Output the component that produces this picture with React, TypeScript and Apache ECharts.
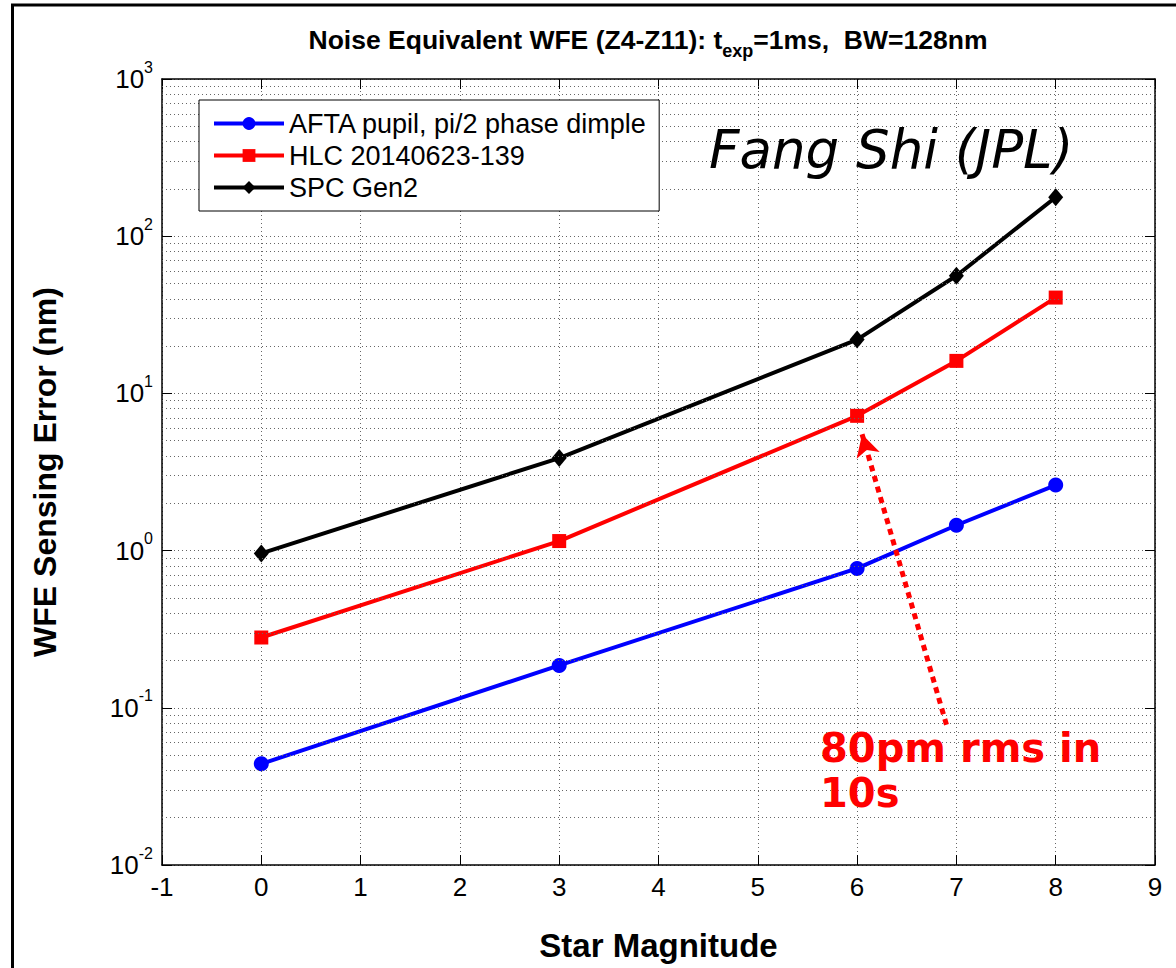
import React, { useEffect, useRef } from "react";
import * as echarts from "echarts";

const X_CATEGORIES = [0, 3, 6, 7, 8];
const AFTA = [0.044, 0.186, 0.77, 1.45, 2.61];
const HLC = [0.28, 1.15, 7.2, 16.1, 40.7];
const SPC = [0.96, 3.88, 22, 56, 177];
const SERIES_NAMES = ["AFTA pupil, pi/2 phase dimple", "HLC 20140623-139", "SPC Gen2"];
const MINOR_GRID: number[] = [];
for (let k = -2; k <= 2; k++) {
  for (let m = 2; m <= 9; m++) MINOR_GRID.push(+(m * Math.pow(10, k)).toPrecision(3));
}
// annotation arrow: from tail to tip (data coordinates)
const ARROW_TAIL = [6.9, 0.078];
const ARROW_TIP = [6.05, 5.5];

const FONT = "'Liberation Sans', Arial, sans-serif";

export default function App() {
  const ref = useRef<HTMLDivElement>(null);
  useEffect(() => {
    if (!ref.current) return;
    const chart = echarts.init(ref.current, undefined, { renderer: "svg" });
    const pair = (ys: number[]) => X_CATEGORIES.map((x, i) => [x, ys[i]]);
    const supLabel = (v: number) => {
      const e = Math.round(Math.log10(v));
      return `{b|10}{s|${e}}`;
    };
    const labelRich = {
      b: { fontSize: 26, lineHeight: 26, fontFamily: FONT, color: "#000" },
      s: { fontSize: 16, lineHeight: 16, fontFamily: FONT, color: "#000", padding: [0, 0, 24, 0] },
    };
    const dotted = { color: "#666", width: 1, type: [1, 3] as any };
    const option: any = {
      animation: false,
      backgroundColor: "#fff",
      grid: { left: 162, top: 79, right: 21, bottom: 103, containLabel: false },
      xAxis: [
        {
          type: "value",
          min: -1,
          max: 9,
          interval: 1,
          axisLine: { show: true, onZero: false, lineStyle: { color: "#000", width: 1.5 } },
          axisTick: { show: true, inside: true, length: 10, lineStyle: { color: "#000" } },
          axisLabel: { fontSize: 26, fontFamily: FONT, color: "#000", margin: 9 },
          splitLine: { show: true, lineStyle: dotted },
          name: "Star Magnitude",
          nameLocation: "middle",
          nameGap: 64,
          nameTextStyle: { fontSize: 33, fontWeight: "bold", fontFamily: FONT, color: "#000" },
        },
        {
          type: "value",
          position: "top",
          min: -1,
          max: 9,
          interval: 1,
          axisLine: { show: true, onZero: false, lineStyle: { color: "#000", width: 1.5 } },
          axisTick: { show: true, inside: true, length: 10, lineStyle: { color: "#000" } },
          axisLabel: { show: false },
          splitLine: { show: false },
        },
      ],
      yAxis: [
        {
          type: "log",
          logBase: 10,
          min: 0.01,
          max: 1000,
          interval: 1,
          axisLine: { show: true, onZero: false, lineStyle: { color: "#000", width: 1.5 } },
          axisTick: { show: true, inside: true, length: 10, lineStyle: { color: "#000" } },
          axisLabel: { formatter: supLabel, rich: labelRich, margin: 9 },
          splitLine: { show: true, lineStyle: dotted },
          name: "WFE Sensing Error (nm)",
          nameLocation: "middle",
          nameGap: 101,
          nameTextStyle: { fontSize: 32, fontWeight: "bold", fontFamily: FONT, color: "#000" },
        },
        {
          type: "log",
          logBase: 10,
          min: 0.01,
          max: 1000,
          interval: 1,
          position: "right",
          axisLine: { show: true, onZero: false, lineStyle: { color: "#000", width: 1.5 } },
          axisTick: { show: true, inside: true, length: 10, lineStyle: { color: "#000" } },
          axisLabel: { show: false },
          splitLine: { show: false },
        },
      ],
      legend: {
        data: SERIES_NAMES,
        orient: "vertical",
        left: 199,
        top: 100,
        padding: [10, 12, 10, 13],
        itemGap: 5,
        itemWidth: 70,
        itemHeight: 16,
        borderColor: "#000",
        borderWidth: 1,
        backgroundColor: "#fff",
        lineStyle: { width: 4 },
        textStyle: { fontSize: 27, lineHeight: 22, fontFamily: FONT, color: "#000" },
        z: 10,
      },
      series: [
        {
          name: "minor-grid",
          type: "line",
          data: [],
          z: 1,
          silent: true,
          markLine: {
            silent: true,
            symbol: ["none", "none"],
            label: { show: false },
            lineStyle: dotted,
            data: MINOR_GRID.map((v) => ({ yAxis: v })),
          },
        },
        {
          name: SERIES_NAMES[0],
          type: "line",
          data: pair(AFTA),
          symbol: "circle",
          symbolSize: 15,
          lineStyle: { color: "#0000ff", width: 4 },
          itemStyle: { color: "#0000ff" },
          z: 3,
        },
        {
          name: SERIES_NAMES[1],
          type: "line",
          data: pair(HLC),
          symbol: "rect",
          symbolSize: 14,
          lineStyle: { color: "#ff0000", width: 4 },
          itemStyle: { color: "#ff0000" },
          z: 3,
        },
        {
          name: SERIES_NAMES[2],
          type: "line",
          data: pair(SPC),
          symbol: "diamond",
          symbolSize: [15, 18],
          lineStyle: { color: "#000000", width: 4 },
          itemStyle: { color: "#000000" },
          z: 3,
        },
        {
          name: "arrow",
          type: "line",
          data: [],
          z: 4,
          silent: true,
          markLine: {
            silent: true,
            symbol: ["none", "arrow"],
            symbolSize: [18, 22],
            label: { show: false },
            lineStyle: { color: "#ff0000", width: 5, type: [6, 5] },
            data: [[{ coord: ARROW_TAIL }, { coord: ARROW_TIP }]],
          },
        },
      ],
      graphic: [
        {
          type: "rect",
          shape: { x: 12.5, y: 5, width: 1300, height: 1100 },
          style: { fill: "none", stroke: "#000", lineWidth: 3 },
          silent: true,
          z: 100,
        },
        {
          type: "text",
          x: 648,
          y: 40,
          style: {
            text: "{t|Noise Equivalent WFE (Z4-Z11): t}{s|exp}{t|=1ms,  BW=128nm}",
            align: "center",
            verticalAlign: "middle",
            rich: {
              t: { fontSize: 26.5, lineHeight: 26, fontWeight: "bold", fontFamily: FONT, fill: "#000" },
              s: { fontSize: 18, lineHeight: 18, fontWeight: "bold", fontFamily: FONT, fill: "#000", padding: [22, 0, 0, 0] },
            },
          },
        },
        {
          type: "text",
          x: 709,
          y: 149,
          style: {
            text: "Fang Shi (JPL)",
            fontSize: 53,
            fontStyle: "italic",
            fontFamily: "'DejaVu Sans', Verdana, sans-serif",
            fill: "#000",
            verticalAlign: "middle",
          },
          z: 20,
        },
        {
          type: "text",
          x: 820,
          y: 770,
          style: {
            text: "80pm rms in\n10s",
            fontSize: 40,
            lineHeight: 45,
            fontWeight: "bold",
            fontFamily: "'DejaVu Sans', Verdana, sans-serif",
            fill: "#ff0000",
            verticalAlign: "middle",
          },
          z: 20,
        },
      ],
    };
    chart.setOption(option);
    return () => chart.dispose();
  }, []);
  return (
    <div
      ref={ref}
      style={{ position: "fixed", left: 0, top: 0, width: 1176, height: 968 }}
    />
  );
}
